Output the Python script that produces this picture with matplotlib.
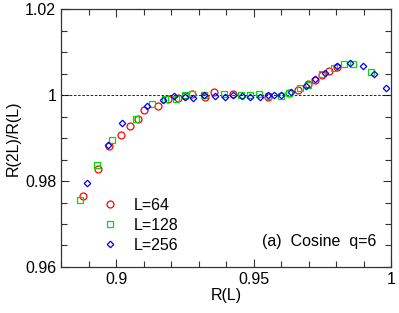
import matplotlib
matplotlib.use("Agg")
import matplotlib.pyplot as plt
from matplotlib.ticker import MultipleLocator

plt.rcParams['font.family'] = ['Liberation Sans', 'DejaVu Sans']

# L=64
r64 = [0.8880, 0.8934, 0.8974, 0.9017, 0.9050, 0.9080, 0.9103, 0.9154, 0.9190,
       0.9224, 0.9252, 0.9278, 0.9324, 0.9357, 0.9425, 0.9554, 0.9629, 0.9660,
       0.9698, 0.9725, 0.9748, 0.9773, 0.9802]
v64 = [0.97651, 0.98272, 0.98821, 0.99063, 0.99287, 0.99435, 0.99650, 0.99744, 0.99900,
       0.99938, 0.99977, 1.00016, 0.99953, 1.00062, 1.00030, 0.99953, 1.00054, 1.00116,
       1.00256, 1.00340, 1.00465, 1.00565, 1.00658]

# L=128
r128 = [0.8868, 0.8932, 0.8985, 0.9074, 0.9131, 0.9178, 0.9218, 0.9252, 0.9278,
        0.9321, 0.9393, 0.9456, 0.9488, 0.9521, 0.9552, 0.9600, 0.9630, 0.9670,
        0.9698, 0.9749, 0.9792, 0.9828, 0.9862, 0.9926]
v128 = [0.97551, 0.98372, 0.98953, 0.99449, 0.99798, 0.99907, 0.99907, 0.99992, 1.00030,
        1.00007, 1.00016, 1.00000, 1.00000, 1.00030, 0.99984, 0.99984, 1.00047, 1.00155,
        1.00233, 1.00488, 1.00620, 1.00728, 1.00728, 1.00543]

# L=256
r256 = [0.8894, 0.8970, 0.9023, 0.9113, 0.9172, 0.9211, 0.9251, 0.9280, 0.9321,
        0.9360, 0.9397, 0.9426, 0.9457, 0.9488, 0.9522, 0.9551, 0.9574, 0.9600,
        0.9638, 0.9689, 0.9723, 0.9760, 0.9804, 0.9852, 0.9899, 0.9937, 0.9982]
v256 = [0.97946, 0.98830, 0.99349, 0.99737, 0.99876, 0.99970, 0.99961, 0.99930, 0.99993,
        0.99970, 0.99946, 1.00007, 0.99977, 0.99953, 0.99961, 1.00000, 1.00000, 1.00007,
        1.00062, 1.00217, 1.00365, 1.00504, 1.00674, 1.00751, 1.00674, 1.00488, 1.00170]

xticks = [0.9, 0.95, 1.0]
xtick_labels = ['0.9', '0.95', '1']
yticks = [0.96, 0.98, 1.0, 1.02]
ytick_labels = ['0.96', '0.98', '1', '1.02']

fig = plt.figure(figsize=(3.99, 3.13), dpi=100)
ax = fig.add_axes([0.153, 0.147, 0.827, 0.824])

ax.axhline(1.0, color='black', lw=0.6, ls=(0, (3, 2)))
ax.plot(r64, v64, 'o', mfc='none', mec='#ff0000', ms=5, mew=0.9, label='L=64')
ax.plot(r128, v128, 's', mfc='none', mec='#00dd00', ms=5, mew=0.9, label='L=128')
ax.plot(r256, v256, 'D', mfc='none', mec='#0000ff', ms=3.3, mew=0.9, label='L=256')

ax.set_xlim(0.88, 1.0)
ax.set_ylim(0.96, 1.02)
ax.set_xticks(xticks)
ax.set_xticklabels(xtick_labels)
ax.xaxis.set_minor_locator(MultipleLocator(0.01))
ax.set_yticks(yticks)
ax.set_yticklabels(ytick_labels)
ax.yaxis.set_minor_locator(MultipleLocator(0.005))
ax.tick_params(which='both', direction='in', top=True, right=True, labelsize=11.5, width=0.8,
               color='#333333')
ax.tick_params(which='major', length=6)
ax.tick_params(which='minor', length=4)
for s in ax.spines.values():
    s.set_linewidth(0.9)
    s.set_color('#333333')

ax.set_xlabel('R(L)', fontsize=11.5, labelpad=1)
ax.set_ylabel('R(2L)/R(L)', fontsize=11.5, labelpad=3)

ax.legend(loc='lower left', bbox_to_anchor=(0.07, 0.0), frameon=False, fontsize=11.5,
          handletextpad=0.7, labelspacing=0.3, handlelength=1.5)
ax.text(0.955, 0.1, '(a)  Cosine  q=6', transform=ax.transAxes, ha='right', va='center', fontsize=11.5)

fig.savefig('out.png', dpi=100)
